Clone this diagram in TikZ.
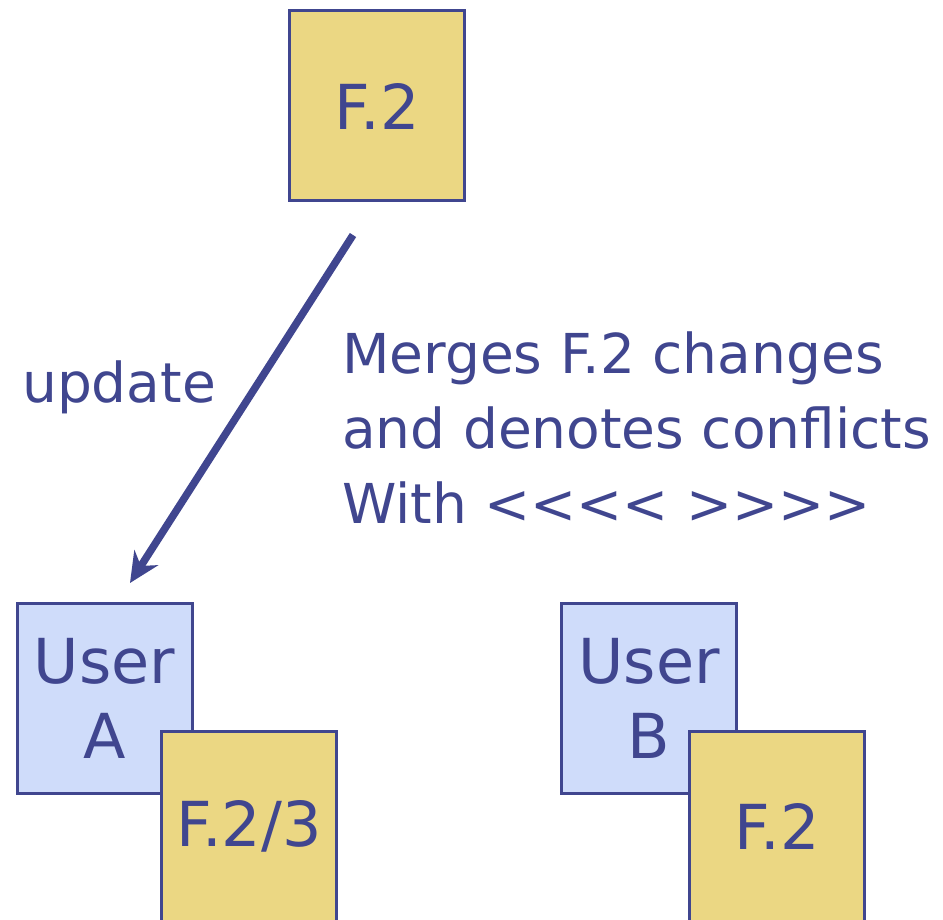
\documentclass[tikz,border=0pt]{standalone}
\usepackage{fontspec}
\setmainfont{DejaVu Sans}
\usetikzlibrary{arrows.meta}
\definecolor{ink}{RGB}{64,70,143}
\definecolor{filefill}{RGB}{235,215,131}
\definecolor{userfill}{RGB}{207,220,250}

\begin{document}
\begin{tikzpicture}[x=1pt,y=-1pt]
    \tikzset{box/.style = {rectangle, draw=ink, line width=3pt, minimum width=175pt, minimum height=190pt, inner sep=0pt, text=ink, align=center, font=\fontsize{62}{75}\selectfont}}
    \tikzset{file/.style = {box, fill=filefill}}
    \tikzset{user/.style = {box, fill=userfill}}
    \tikzset{note/.style = {text=ink, align=left, inner sep=0pt, anchor=base west, font=\fontsize{55}{75}\selectfont}}
    \tikzset{arrow/.style = {-{Stealth[length=30pt,width=28pt]}, line width=7.5pt, draw=ink}}
    \useasboundingbox (0,0) rectangle (943,920);
    % repository copy on top
    \node[file] (repo) at (377,106) {F.2};
    % the two working copies
    \node[user] (userA) at (104.5,698) {User\\A};
    \node[file] (copyA) at (249,826.5) {F.2/3};
    \node[user] (userB) at (649,698) {User\\B};
    \node[file] (copyB) at (777,826.5) {F.2};
    % update arrow
    \coordinate (from) at (353,235);
    \coordinate (to) at (130,583);
    \draw[arrow] (from) -- (to);
    \node[note] (upd) at (22,402) {update};
    % base anchor sits on the last line
    \node[note] (merge) at (342,523) {Merges F.2 changes\\and denotes conflicts\\With <{}<{}<{}< >{}>{}>{}>};
\end{tikzpicture}
\end{document}
